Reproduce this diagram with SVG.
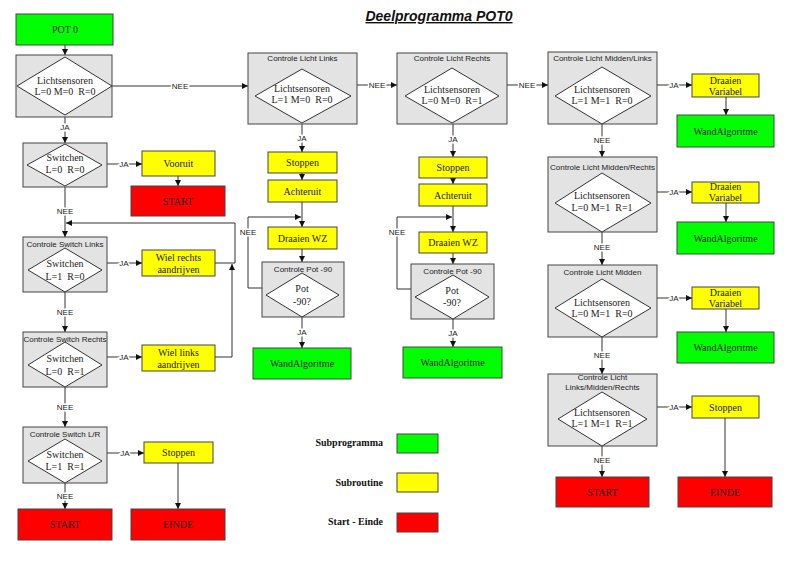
<svg xmlns="http://www.w3.org/2000/svg" width="800" height="562" viewBox="0 0 800 562">
<defs>
<marker id="ah" markerWidth="6" markerHeight="6" refX="6" refY="3" orient="auto" markerUnits="userSpaceOnUse">
<path d="M0,0 L6,3 L0,6 z" fill="#111"/>
</marker>
<style>
.g{fill:#00ff00;stroke:#444;stroke-width:1}
.y{fill:#ffff00;stroke:#444;stroke-width:1}
.r{fill:#ff0000;stroke:#444;stroke-width:1}
.bx{fill:#e3e3e3;stroke:#444;stroke-width:1}
.dm{fill:#fff;stroke:#333;stroke-width:1}
.t{font-family:"Liberation Serif","Times New Roman",serif;font-size:10px;fill:#222;text-anchor:middle}
.lb{font-family:"Liberation Sans",Arial,sans-serif;font-size:8px;fill:#222;text-anchor:middle}
.cl{font-family:"Liberation Sans",Arial,sans-serif;font-size:8px;fill:#222;text-anchor:middle;stroke:#fff;stroke-width:3;paint-order:stroke}
.ln{fill:none;stroke:#333;stroke-width:1}
.lg{font-family:"Liberation Serif","Times New Roman",serif;font-size:10px;font-weight:bold;fill:#111;text-anchor:end}
</style>
</defs>
<rect width="800" height="562" fill="#fff"/>
<text x="439" y="21" font-family="Liberation Sans, Arial, sans-serif" font-size="14" font-weight="bold" font-style="italic" text-anchor="middle" text-decoration="underline" fill="#111">Deelprogramma POT0</text>

<g id="connectors">
<path class="ln" d="M65,45 V55" marker-end="url(#ah)"/>
<path class="ln" d="M65,116 V143" marker-end="url(#ah)"/>
<path class="ln" d="M107,164 H142" marker-end="url(#ah)"/>
<path class="ln" d="M178,176 V186" marker-end="url(#ah)"/>
<path class="ln" d="M65,187 V237" marker-end="url(#ah)"/>
<path class="ln" d="M215,263 H235 V223 H66" marker-end="url(#ah)"/>
<path class="ln" d="M215,357 H232 V264" marker-end="url(#ah)"/>
<path class="ln" d="M107,263 H142" marker-end="url(#ah)"/>
<path class="ln" d="M65,292 V332" marker-end="url(#ah)"/>
<path class="ln" d="M107,357 H142" marker-end="url(#ah)"/>
<path class="ln" d="M65,387 V427" marker-end="url(#ah)"/>
<path class="ln" d="M107,453 H144" marker-end="url(#ah)"/>
<path class="ln" d="M178,463 V509" marker-end="url(#ah)"/>
<path class="ln" d="M65,483 V509" marker-end="url(#ah)"/>
<path class="ln" d="M112,86 H248" marker-end="url(#ah)"/>
<path class="ln" d="M357,85 H397" marker-end="url(#ah)"/>
<path class="ln" d="M507,85 H548" marker-end="url(#ah)"/>
<path class="ln" d="M302,124 V152" marker-end="url(#ah)"/>
<path class="ln" d="M302,173 V180" marker-end="url(#ah)"/>
<path class="ln" d="M302,202 V227" marker-end="url(#ah)"/>
<path class="ln" d="M262,288 H248 V217 H301" marker-end="url(#ah)"/>
<path class="ln" d="M302,249 V262" marker-end="url(#ah)"/>
<path class="ln" d="M302,317 V348" marker-end="url(#ah)"/>
<path class="ln" d="M453,124 V157" marker-end="url(#ah)"/>
<path class="ln" d="M453,178 V184" marker-end="url(#ah)"/>
<path class="ln" d="M453,206 V232" marker-end="url(#ah)"/>
<path class="ln" d="M411,289 H397 V217 H452" marker-end="url(#ah)"/>
<path class="ln" d="M453,253 V264" marker-end="url(#ah)"/>
<path class="ln" d="M453,319 V347" marker-end="url(#ah)"/>
<path class="ln" d="M657,85 H692" marker-end="url(#ah)"/>
<path class="ln" d="M726,97 V115" marker-end="url(#ah)"/>
<path class="ln" d="M602,124 V157" marker-end="url(#ah)"/>
<path class="ln" d="M657,192 H692" marker-end="url(#ah)"/>
<path class="ln" d="M726,203 V222" marker-end="url(#ah)"/>
<path class="ln" d="M602,232 V265" marker-end="url(#ah)"/>
<path class="ln" d="M657,298 H692" marker-end="url(#ah)"/>
<path class="ln" d="M726,309 V332" marker-end="url(#ah)"/>
<path class="ln" d="M602,337 V374" marker-end="url(#ah)"/>
<path class="ln" d="M657,407 H692" marker-end="url(#ah)"/>
<path class="ln" d="M725,418 V477" marker-end="url(#ah)"/>
<path class="ln" d="M602,446 V477" marker-end="url(#ah)"/>
<text class="cl" x="65" y="130">JA</text>
<text class="cl" x="124" y="167">JA</text>
<text class="cl" x="65" y="214">NEE</text>
<text class="cl" x="124" y="266">JA</text>
<text class="cl" x="65" y="315">NEE</text>
<text class="cl" x="124" y="360">JA</text>
<text class="cl" x="65" y="410">NEE</text>
<text class="cl" x="125" y="456">JA</text>
<text class="cl" x="65" y="499">NEE</text>
<text class="cl" x="180" y="89">NEE</text>
<text class="cl" x="377" y="88">NEE</text>
<text class="cl" x="527" y="88">NEE</text>
<text class="cl" x="302" y="141">JA</text>
<text class="cl" x="248" y="235">NEE</text>
<text class="cl" x="302" y="335">JA</text>
<text class="cl" x="453" y="142">JA</text>
<text class="cl" x="397" y="235">NEE</text>
<text class="cl" x="453" y="336">JA</text>
<text class="cl" x="674" y="88">JA</text>
<text class="cl" x="602" y="143">NEE</text>
<text class="cl" x="674" y="195">JA</text>
<text class="cl" x="602" y="250">NEE</text>
<text class="cl" x="674" y="301">JA</text>
<text class="cl" x="602" y="358">NEE</text>
<text class="cl" x="674" y="410">JA</text>
<text class="cl" x="602" y="463">NEE</text>
</g>

<g id="pot0"><rect class="g" x="16" y="14" width="97" height="31"/><text class="t" x="65" y="33">POT 0</text></g>
<g id="licht000"><rect class="bx" x="16" y="55" width="96" height="62"/><polygon class="dm" points="17,86 65,57 112,86 65,115"/><text class="t" x="65" y="84">Lichtsensoren</text><text class="t" x="65" y="95" xml:space="preserve">L=0 M=0  R=0</text></g>
<g id="switch00"><rect class="bx" x="23" y="143" width="84" height="44"/><polygon class="dm" points="27,165 65,144 102,165 65,186"/><text class="t" x="65" y="161">Switchen</text><text class="t" x="65" y="173" xml:space="preserve">L=0  R=0</text></g>
<g id="vooruit"><rect class="y" x="142" y="151" width="73" height="25"/><text class="t" x="178.5" y="167">Vooruit</text></g>
<g id="start1"><rect class="r" x="131" y="186" width="94" height="30"/><text class="t" x="178" y="205">START</text></g>
<g id="switchLinks"><rect class="bx" x="23" y="237" width="84" height="55"/><text class="lb" x="65" y="247">Controle Switch Links</text><polygon class="dm" points="28,270 65,248 102,270 65,292"/><text class="t" x="65" y="267">Switchen</text><text class="t" x="65" y="280" xml:space="preserve">L=1  R=0</text></g>
<g id="wielRechts"><rect class="y" x="142" y="250" width="73" height="26"/><text class="t" x="178.5" y="260.5">Wiel rechts</text><text class="t" x="178.5" y="272.5">aandrijven</text></g>
<g id="switchRechts"><rect class="bx" x="23" y="332" width="84" height="55"/><text class="lb" x="65" y="342">Controle Switch Rechts</text><polygon class="dm" points="28,365 65,342 102,365 65,387"/><text class="t" x="65" y="362">Switchen</text><text class="t" x="65" y="375" xml:space="preserve">L=0  R=1</text></g>
<g id="wielLinks"><rect class="y" x="142" y="345" width="73" height="26"/><text class="t" x="178.5" y="355.5">Wiel links</text><text class="t" x="178.5" y="367.5">aandrijven</text></g>
<g id="switchLR"><rect class="bx" x="23" y="427" width="84" height="56"/><text class="lb" x="65" y="437">Controle Switch L/R</text><polygon class="dm" points="28,461 65,439 102,461 65,483"/><text class="t" x="65" y="458">Switchen</text><text class="t" x="65" y="470" xml:space="preserve">L=1  R=1</text></g>
<g id="stoppen1"><rect class="y" x="144" y="442" width="69" height="21"/><text class="t" x="178.5" y="456">Stoppen</text></g>
<g id="einde1"><rect class="r" x="131" y="509" width="94" height="31"/><text class="t" x="178" y="528">EINDE</text></g>
<g id="start2"><rect class="r" x="18" y="509" width="94" height="31"/><text class="t" x="65" y="528">START</text></g>

<g id="lichtLinks"><rect class="bx" x="248" y="53" width="109" height="71"/><text class="lb" x="302.5" y="61">Controle Licht Links</text><polygon class="dm" points="255,96 302,69 351,96 302,123"/><text class="t" x="302" y="92">Lichtsensoren</text><text class="t" x="302" y="103" xml:space="preserve">L=1 M=0  R=0</text></g>
<g id="stoppen2"><rect class="y" x="268" y="152" width="69" height="21"/><text class="t" x="302.5" y="166">Stoppen</text></g>
<g id="achteruit1"><rect class="y" x="268" y="180" width="69" height="22"/><text class="t" x="302.5" y="194.5">Achteruit</text></g>
<g id="draaienWZ1"><rect class="y" x="268" y="227" width="69" height="22"/><text class="t" x="302.5" y="241.5">Draaien WZ</text></g>
<g id="pot90a"><rect class="bx" x="262" y="262" width="82" height="55"/><text class="lb" x="303" y="272">Controle Pot -90</text><polygon class="dm" points="266,295 302,273 339,295 302,317"/><text class="t" x="302" y="292">Pot</text><text class="t" x="302" y="305">-90?</text></g>
<g id="wand1"><rect class="g" x="253" y="348" width="98" height="31"/><text class="t" x="302" y="367">WandAlgoritme</text></g>

<g id="lichtRechts"><rect class="bx" x="397" y="53" width="110" height="71"/><text class="lb" x="452" y="61">Controle Licht Rechts</text><polygon class="dm" points="405,96 452,68 499,96 452,123"/><text class="t" x="452" y="93">Lichtsensoren</text><text class="t" x="452" y="104" xml:space="preserve">L=0 M=0  R=1</text></g>
<g id="stoppen3"><rect class="y" x="419" y="157" width="68" height="21"/><text class="t" x="453" y="171">Stoppen</text></g>
<g id="achteruit2"><rect class="y" x="419" y="184" width="68" height="22"/><text class="t" x="453" y="198.5">Achteruit</text></g>
<g id="draaienWZ2"><rect class="y" x="419" y="232" width="68" height="21"/><text class="t" x="453" y="246">Draaien WZ</text></g>
<g id="pot90b"><rect class="bx" x="411" y="264" width="83" height="55"/><text class="lb" x="452.5" y="274">Controle Pot -90</text><polygon class="dm" points="415,297 453,275 489,297 453,319"/><text class="t" x="452" y="294">Pot</text><text class="t" x="452" y="306">-90?</text></g>
<g id="wand2"><rect class="g" x="403" y="347" width="99" height="31"/><text class="t" x="452.5" y="366">WandAlgoritme</text></g>

<g id="middenLinks"><rect class="bx" x="548" y="52" width="109" height="72"/><text class="lb" x="602.5" y="61">Controle Licht Midden/Links</text><polygon class="dm" points="555,96 602,67 651,96 602,124"/><text class="t" x="602" y="93">Lichtsensoren</text><text class="t" x="602" y="104" xml:space="preserve">L=1 M=1  R=0</text></g>
<g id="draaienVar1"><rect class="y" x="692" y="74" width="67" height="23"/><text class="t" x="725.5" y="83.5">Draaien</text><text class="t" x="725.5" y="95">Variabel</text></g>
<g id="wand3"><rect class="g" x="677" y="115" width="97" height="32"/><text class="t" x="725.5" y="135">WandAlgoritme</text></g>
<g id="middenRechts"><rect class="bx" x="548" y="157" width="109" height="75"/><text class="lb" x="602.5" y="170">Controle Licht Midden/Rechts</text><polygon class="dm" points="555,203 602,173 651,203 602,232"/><text class="t" x="602" y="199">Lichtsensoren</text><text class="t" x="602" y="211" xml:space="preserve">L=0 M=1  R=1</text></g>
<g id="draaienVar2"><rect class="y" x="692" y="182" width="67" height="21"/><text class="t" x="725.5" y="189.5">Draaien</text><text class="t" x="725.5" y="200.5">Variabel</text></g>
<g id="wand4"><rect class="g" x="677" y="222" width="97" height="32"/><text class="t" x="725.5" y="242">WandAlgoritme</text></g>
<g id="midden"><rect class="bx" x="548" y="265" width="109" height="72"/><text class="lb" x="602.5" y="275">Controle Licht Midden</text><polygon class="dm" points="555,308 602,279 651,308 602,337"/><text class="t" x="602" y="306">Lichtsensoren</text><text class="t" x="602" y="317" xml:space="preserve">L=0 M=1  R=0</text></g>
<g id="draaienVar3"><rect class="y" x="692" y="287" width="67" height="22"/><text class="t" x="725.5" y="295.5">Draaien</text><text class="t" x="725.5" y="307">Variabel</text></g>
<g id="wand5"><rect class="g" x="677" y="332" width="97" height="31"/><text class="t" x="725.5" y="351">WandAlgoritme</text></g>
<g id="lmr"><rect class="bx" x="548" y="374" width="109" height="72"/><text class="lb" x="602.5" y="380">Controle Licht</text><text class="lb" x="602.5" y="390">Links/Midden/Rechts</text><polygon class="dm" points="558,419 602,392 647,419 602,446"/><text class="t" x="602" y="416">Lichtsensoren</text><text class="t" x="602" y="427" xml:space="preserve">L=1 M=1  R=1</text></g>
<g id="stoppen4"><rect class="y" x="692" y="396" width="67" height="22"/><text class="t" x="725.5" y="410.5">Stoppen</text></g>
<g id="einde2"><rect class="r" x="678" y="477" width="94" height="30"/><text class="t" x="725" y="496">EINDE</text></g>
<g id="start3"><rect class="r" x="556" y="477" width="93" height="30"/><text class="t" x="602.5" y="496">START</text></g>

<g id="legend">
<text class="lg" x="383" y="446">Subprogramma</text><rect class="g" x="397" y="434" width="41" height="19"/>
<text class="lg" x="383" y="486">Subroutine</text><rect class="y" x="397" y="473" width="41" height="19"/>
<text class="lg" x="383" y="525">Start - Einde</text><rect class="r" x="397" y="513" width="41" height="19"/>
</g>
</svg>
